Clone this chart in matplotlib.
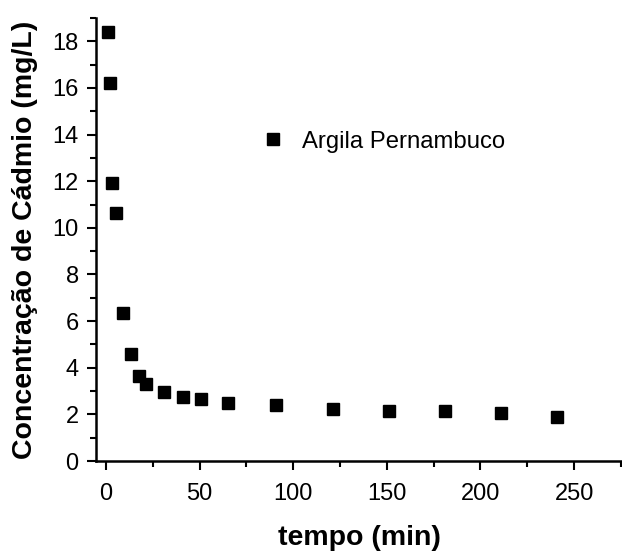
import matplotlib
matplotlib.use('Agg')
import matplotlib.pyplot as plt
from matplotlib.ticker import MultipleLocator

plt.rcParams['font.family'] = ['Liberation Sans', 'DejaVu Sans']

# Data
tempo = [1, 2, 3.5, 5.5, 9, 13.5, 17.5, 21.5, 31, 41, 51, 65, 91, 121, 151, 181, 211, 241]
concentracao = [18.38, 16.22, 11.93, 10.64, 6.34, 4.6, 3.65, 3.3, 2.98, 2.75, 2.65, 2.48,
                2.39, 2.22, 2.15, 2.15, 2.04, 1.87]
serie = 'Argila Pernambuco'

fig = plt.figure(figsize=(6.22, 5.51), dpi=100)
ax = fig.add_axes([96/622, 1 - 461/551, 526/622, 443/551])

ax.plot(tempo, concentracao, 's', color='black', markersize=9, label=serie)

ax.set_xlim(-5.3, 275.6)
ax.set_ylim(0, 19)
ax.xaxis.set_major_locator(MultipleLocator(50))
ax.xaxis.set_minor_locator(MultipleLocator(25))
ax.yaxis.set_major_locator(MultipleLocator(2))
ax.yaxis.set_minor_locator(MultipleLocator(1))

for s in ['top', 'right']:
    ax.spines[s].set_visible(False)
for s in ['left', 'bottom']:
    ax.spines[s].set_linewidth(1.8)

ax.tick_params(which='major', length=6.5, width=1.5, labelsize=17)
ax.tick_params(which='minor', length=4, width=1.5)
ax.tick_params(axis='x', which='major', pad=9)
ax.tick_params(axis='y', which='major', pad=6)

ax.set_xlabel('tempo (min)', fontsize=20.5, fontweight='bold', labelpad=15)
ax.set_ylabel('Concentração de Cádmio (mg/L)', fontsize=20.5, fontweight='bold', labelpad=10)

ax.legend(loc='center left', bbox_to_anchor=(261/622, 1 - 141.7/551),
          bbox_transform=fig.transFigure, frameon=False, fontsize=17.2,
          handlelength=1, handletextpad=0.7, borderaxespad=0, borderpad=0,
          markerscale=0.95)

fig.savefig('out.png', dpi=100)
